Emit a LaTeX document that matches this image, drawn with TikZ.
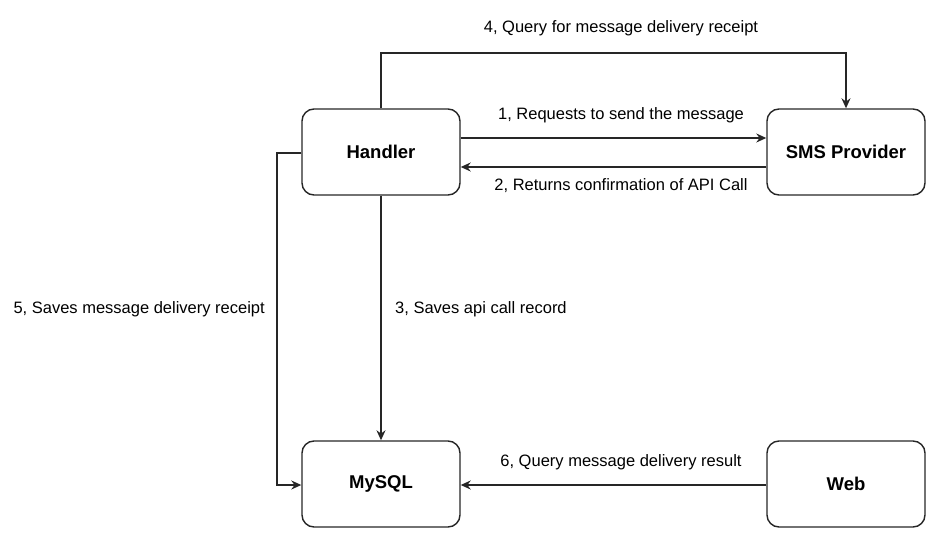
\documentclass[tikz,border=0pt]{standalone}
\usepackage{fontspec}
\setmainfont{Liberation Sans}
\usetikzlibrary{arrows.meta}
\begin{document}
\begin{tikzpicture}[x=1pt,y=-1pt,
  box/.style={draw=black!85,line width=1.4pt,rounded corners=12pt,minimum width=158pt,minimum height=86pt,font=\fontsize{18.5}{22}\selectfont\bfseries},
  conn/.style={draw=black!85,line width=1.4pt,-{Stealth[length=10pt,width=9pt]}},
  lbl/.style={font=\fontsize{16.5}{19}\selectfont,inner sep=0pt}]
\useasboundingbox (0,0) rectangle (938,549);
\node[box] (handler) at (381,152) {Handler};
\node[box] (sms) at (846,152) {SMS Provider};
\node[box] (mysql) at (381,484) {MySQL};
\node[box] (web) at (846,484) {Web};
\coordinate (c4a) at (381,53);
\coordinate (c4b) at (846,53);
\coordinate (c5a) at (277,153);
\coordinate (c5b) at (277,485);
\draw[conn] (handler.east |- 0,138) -- (sms.west |- 0,138);
\draw[conn] (sms.west |- 0,167) -- (handler.east |- 0,167);
\draw[conn] (handler.south) -- (mysql.north);
\draw[conn] (handler.north) -- (c4a) -- (c4b) -- (sms.north);
\draw[conn] (handler.west |- c5a) -- (c5a) -- (c5b) -- (mysql.west |- c5b);
\draw[conn] (web.west |- c5b) -- (mysql.east |- c5b);
\node[lbl] (l4) at (621,28) {4, Query for message delivery receipt};
\node[lbl] (l1) at (621,115) {1, Requests to send the message};
\node[lbl] (l2) at (621,186) {2, Returns confirmation of API Call};
\node[lbl,anchor=west] (l3) at (395,309) {3, Saves api call record};
\node[lbl,anchor=east] (l5) at (265,309) {5, Saves message delivery receipt};
\node[lbl] (l6) at (621,462) {6, Query message delivery result};
\end{tikzpicture}
\end{document}
